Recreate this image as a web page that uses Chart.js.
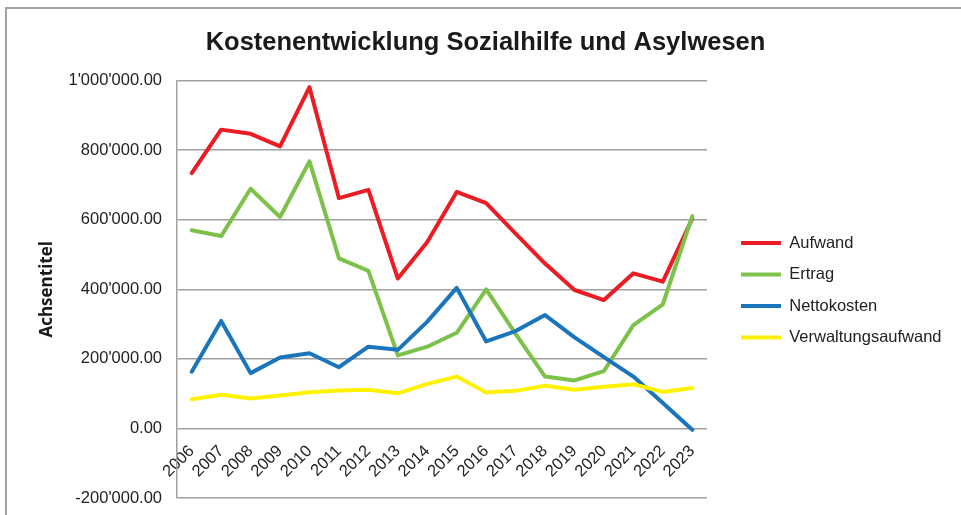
<!DOCTYPE html>
<html>
<head>
<meta charset="utf-8">
<script src="https://cdn.jsdelivr.net/npm/chart.js@4.4.1/dist/chart.umd.min.js"></script>
<style>
  html, body { margin: 0; padding: 0; background: #fff; }
  .wrap { position: relative; width: 961px; height: 515px; overflow: hidden; }
  .frame { position: absolute; left: 5px; top: 7px; width: 1000px; height: 600px;
           border-left: 2px solid #a3a3a3; border-top: 2px solid #a3a3a3; pointer-events: none; }
</style>
</head>
<body>
<div class="wrap">
  <canvas id="chart" width="961" height="515"></canvas>
  <div class="frame"></div>
</div>
<script>
const YEARS = ['2006', '2007', '2008', '2009', '2010', '2011', '2012', '2013', '2014',
  '2015', '2016', '2017', '2018', '2019', '2020', '2021', '2022', '2023'];

const AUFWAND = [734000, 859000, 847000, 811000, 981000, 662000, 686000, 431000, 536000,
  680000, 648000, 560000, 474000, 398000, 369000, 446000, 422000, 603000];
const ERTRAG = [570000, 553000, 689000, 608000, 768000, 489000, 453000, 210000, 235000,
  275000, 400000, 272000, 149000, 138000, 165000, 297000, 357000, 610000];
const NETTOKOSTEN = [163000, 309000, 159000, 204000, 216000, 176000, 235000, 226000, 307000,
  404000, 250000, 280000, 326000, 262000, 205000, 149000, 73000, -4000];
const VERWALTUNG = [84000, 97000, 86000, 95000, 104000, 109000, 111000, 101000, 128000,
  149000, 103000, 108000, 123000, 111000, 120000, 127000, 105000, 116000];

const Y_MIN = -200000;
const Y_MAX = 1000000;
const Y_STEP = 200000;

const GRID = '#a0a0a0';
const TEXT = '#222';
const FONT = 'Liberation Sans, Arial, sans-serif';

// Legende: Platz rechts der Plotfläche und Startpunkt der Einträge
const PAD_LEFT = 11;
const PAD_RIGHT = 1;
const PLOT_RIGHT = 707;
const LEGEND_X = 741;
const LEGEND_SHIFT_Y = 1;
const LEGEND_PAD = 15;

// 1'000'000.00 (Schweizer Schreibweise)
function fmtCHF(v) {
  const neg = v < 0;
  const parts = Math.abs(v).toFixed(2).split('.');
  const int = parts[0].replace(/\B(?=(\d{3})+(?!\d))/g, "'");
  return (neg ? '-' : '') + int + '.' + parts[1];
}

function line(label, data, color, order) {
  return {
    label, data, order,
    borderColor: color,
    backgroundColor: color,
    borderWidth: 4,
    borderCapStyle: 'round',
    borderJoinStyle: 'round',
    pointRadius: 0,
    tension: 0,
    fill: false
  };
}

// Legende breiter machen, damit zwischen Plot und Legende eine Lücke bleibt
const legendGap = {
  id: 'legendGap',
  beforeLayout(chart) {
    const lg = chart.legend;
    if (lg && !lg._gapPatched) {
      const fit = lg.fit;
      lg.fit = function () {
        this.maxWidth = Math.max(this.maxWidth, 400);
        fit.call(this);
        this.width = 961 - PAD_RIGHT - PLOT_RIGHT;
      };
      lg._gapPatched = true;
    }
  },
  afterLayout(chart) {
    const lg = chart.legend;
    lg.left = LEGEND_X - LEGEND_PAD;
    lg.top += LEGEND_SHIFT_Y;
    lg.bottom += LEGEND_SHIFT_Y;
  }
};

new Chart(document.getElementById('chart'), {
  type: 'line',
  data: {
    labels: YEARS,
    datasets: [
      line('Aufwand', AUFWAND, '#ec1c24', 4),
      line('Ertrag', ERTRAG, '#7cc24a', 3),
      line('Nettokosten', NETTOKOSTEN, '#1b75bc', 2),
      line('Verwaltungsaufwand', VERWALTUNG, '#fff200', 1)
    ]
  },
  plugins: [legendGap],
  options: {
    responsive: false,
    animation: false,
    layout: { padding: { top: 10, left: PAD_LEFT, right: PAD_RIGHT, bottom: 17 } },
    plugins: {
      tooltip: { enabled: false },
      title: {
        display: true,
        text: 'Kostenentwicklung Sozialhilfe und Asylwesen',
        color: '#1a1a1a',
        font: { family: FONT, size: 25.5, weight: 'bold' },
        padding: { top: 18, bottom: 22 }
      },
      legend: {
        position: 'right',
        fullSize: false,
        labels: {
          color: TEXT,
          font: { family: FONT, size: 16.5 },
          usePointStyle: true,
          pointStyle: 'line',
          pointStyleWidth: 40,
          padding: LEGEND_PAD,
          sort: (a, b) => a.datasetIndex - b.datasetIndex
        }
      }
    },
    scales: {
      x: {
        type: 'category',
        position: { y: 0 },   // Kategorienachse liegt auf der 0-Linie
        offset: true,
        grid: { display: false, drawTicks: false },
        border: { display: false },
        ticks: {
          color: TEXT,
          font: { family: FONT, size: 16.5 },
          minRotation: 45,
          maxRotation: 45,
          autoSkip: false,
          padding: 13
        }
      },
      y: {
        position: 'left',
        min: Y_MIN,
        max: Y_MAX,
        afterFit: s => {
          s.width = 177 - PAD_LEFT;
          s.paddingTop = 10;
          s.paddingBottom = 10;
        },
        grid: { color: GRID, lineWidth: 1.5, drawTicks: false },
        border: { display: true, color: GRID, width: 1.5 },
        ticks: {
          stepSize: Y_STEP,
          color: TEXT,
          padding: 15,
          font: { family: FONT, size: 16.5 },
          callback: v => fmtCHF(v)
        },
        title: {
          display: true,
          text: 'Achsentitel',
          color: '#1a1a1a',
          font: { family: 'Open Sans, sans-serif', size: 17, weight: 'bold' },
          padding: { top: 25.5, bottom: 0 }
        }
      }
    }
  }
});
</script>
</body>
</html>
